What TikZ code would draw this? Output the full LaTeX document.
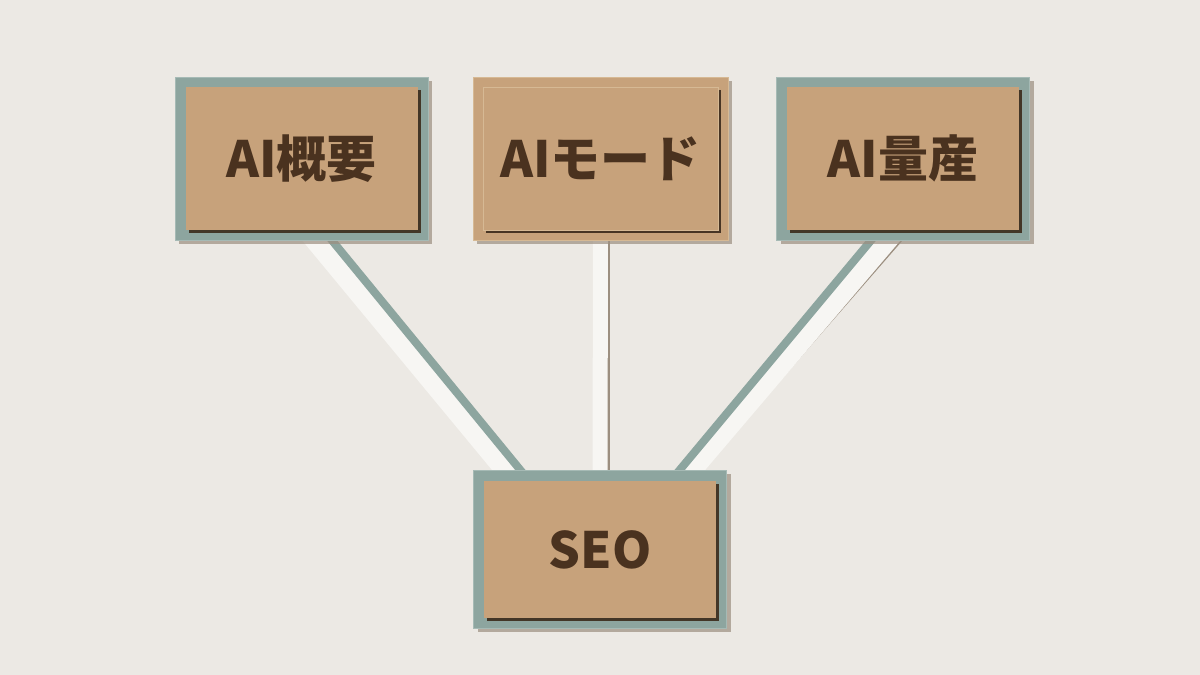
\documentclass[tikz,border=0pt]{standalone}
\usepackage{fontspec}
\newfontfamily\cardfont{Noto Sans CJK JP}
\usetikzlibrary{shadows,backgrounds}

\definecolor{wallpaper}{HTML}{ECE9E4}
\definecolor{sage}{HTML}{8DA59F}
\definecolor{sageedge}{HTML}{A6BAB5}
\definecolor{kraft}{HTML}{C7A27B}
\definecolor{kraftlight}{HTML}{D6B994}
\definecolor{ink}{HTML}{4A321F}
\definecolor{paperstrip}{HTML}{F7F6F3}
\definecolor{cardshadow}{HTML}{3B2A1B}
\definecolor{wallshadow}{HTML}{9C8F80}

\tikzset{
  card_back/.style={fill=sage, draw=sageedge, line width=0.8pt, inner sep=0pt,
    minimum width=253pt, minimum height=163pt,
    drop shadow={shadow xshift=4pt, shadow yshift=-4pt, fill=wallshadow, opacity=0.7}},
  card_front/.style={fill=kraft, inner sep=0pt, minimum width=232pt, minimum height=143pt,
    font=\cardfont\bfseries\fontsize{50}{58}\selectfont, text=ink,
    drop shadow={shadow xshift=3pt, shadow yshift=-3pt, fill=cardshadow, opacity=0.9}},
  white_strip/.style={draw=paperstrip, line width=19pt, shorten <=-14pt, shorten >=-14pt},
  sage_strip/.style={draw=sage, line width=8pt, shorten <=-14pt, shorten >=-14pt},
  strip_shade/.style={draw=wallshadow, line width=2.5pt, shorten <=-14pt, shorten >=-14pt},
}

\begin{document}
\begin{tikzpicture}[x=1pt, y=-1pt]
\useasboundingbox (0,0) rectangle (1200,675);

\pgfmathsetmacro\x{301.5}

% plot the first card
\node[card_back] (overview_back) at (\x, 158.5) {};
\node[card_front] (overview) at (\x, 158.5) {AI概要};

\pgfmathsetmacro\x{\x+299}

% plot the second card, kraft on kraft
\node[card_back, fill=kraft, draw=kraftlight, minimum width=255pt] (mode_back) at (\x, 158.5) {};
\node[card_front, minimum width=235pt, draw=kraftlight, line width=0.6pt] (mode) at (\x, 158.5) {AIモード};

\pgfmathsetmacro\x{\x+302.5}

% plot the third card
\node[card_back] (mass_back) at (\x, 158.5) {};
\node[card_front] (mass) at (\x, 158.5) {AI量産};

% plot the bottom card
\node[card_back, minimum height=158pt] (seo_back) at (600, 549) {};
\node[card_front, minimum height=137pt] (seo) at (600, 549.5) {SEO};

% paper strips behind the cards
\begin{pgfonlayer}{background}
\fill[wallpaper] (0,0) rectangle (1200,675);

\draw[white_strip] ([xshift=13pt]overview_back.south) -- ([xshift=-96pt]seo_back.north);
\draw[sage_strip] ([xshift=30.5pt]overview_back.south) -- ([xshift=-80pt]seo_back.north);

\draw[strip_shade] ([xshift=8pt]mode_back.south) -- ([xshift=8.5pt]seo_back.north);
\draw[white_strip, line width=15pt] (mode_back.south) -- (seo_back.north);

\draw[strip_shade] ([xshift=-2pt]mass_back.south) -- ([xshift=101pt]seo_back.north);
\draw[white_strip] ([xshift=-15pt]mass_back.south) -- ([xshift=93pt]seo_back.north);
\draw[sage_strip] ([xshift=-32pt]mass_back.south) -- ([xshift=80pt]seo_back.north);
\end{pgfonlayer}

\end{tikzpicture}
\end{document}
